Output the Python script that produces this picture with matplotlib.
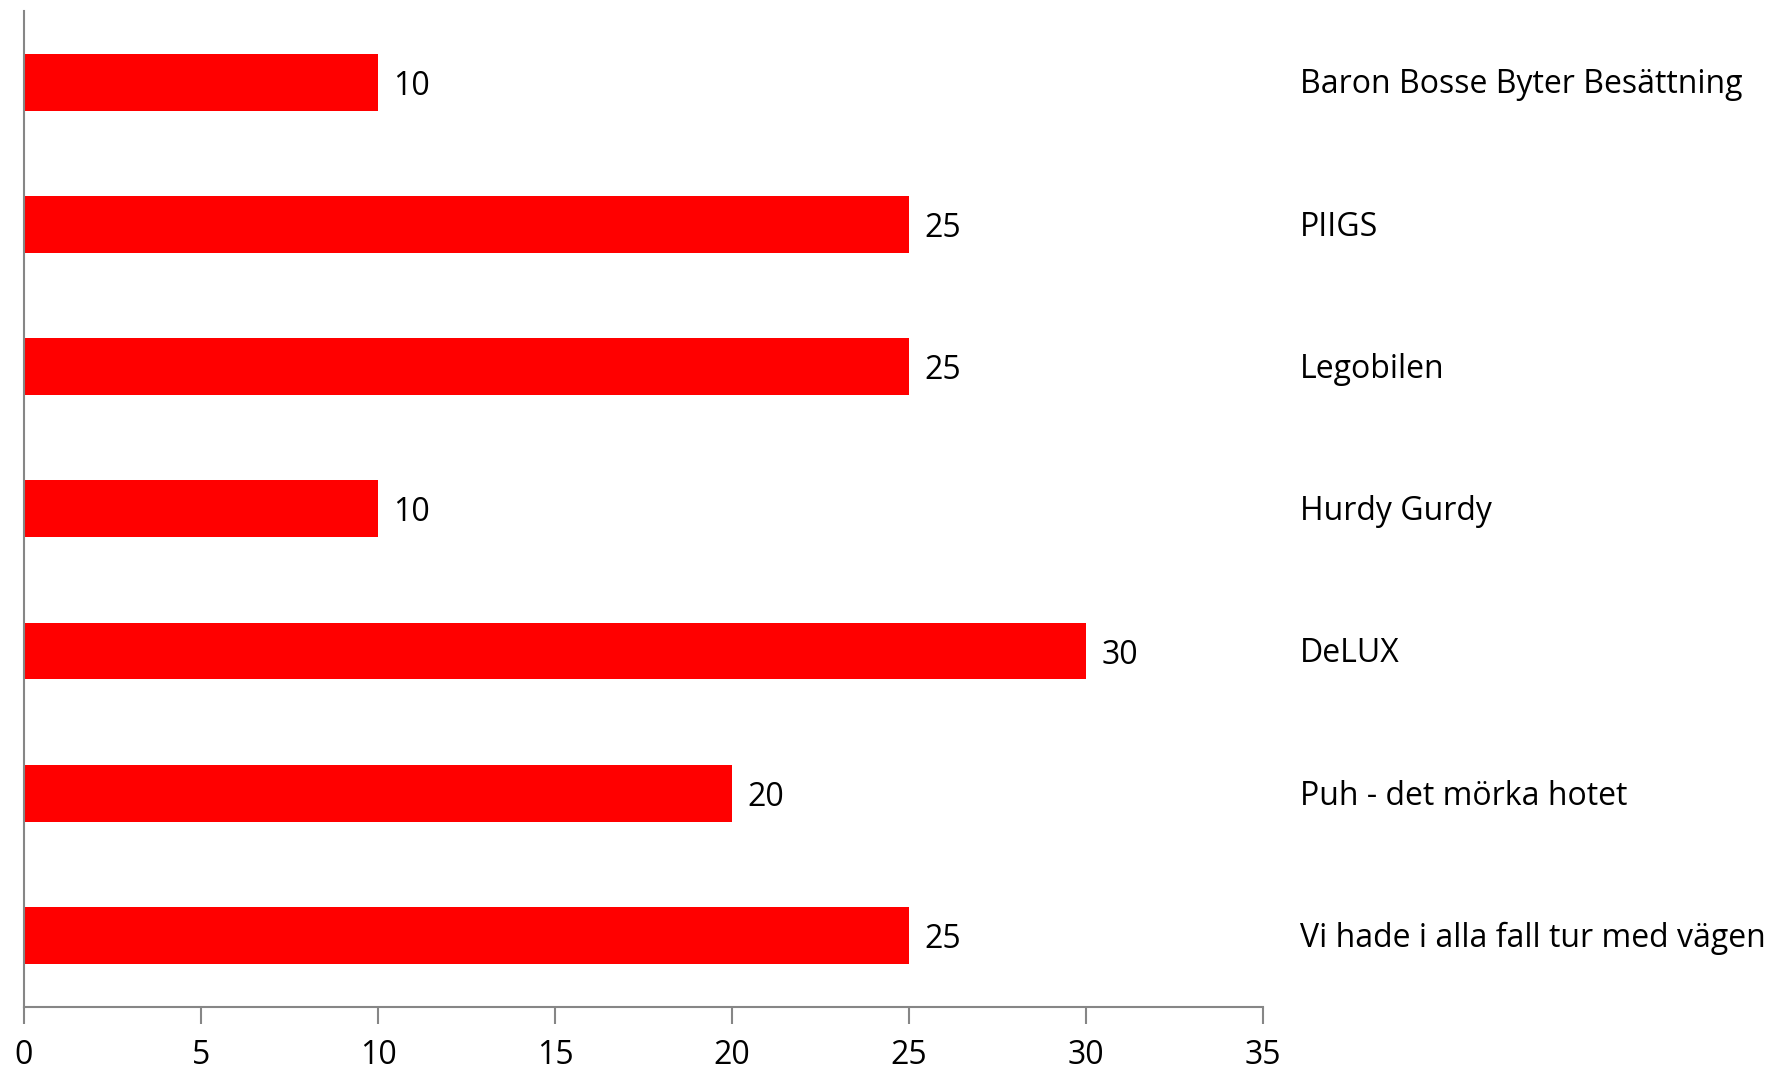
import matplotlib.pyplot as plt

plt.rcParams['font.family'] = ['Open Sans', 'DejaVu Sans']

titles = ['Baron Bosse Byter Besättning', 'PIIGS', 'Legobilen', 'Hurdy Gurdy',
          'DeLUX', 'Puh - det mörka hotet', 'Vi hade i alla fall tur med vägen']
scores = [10, 25, 25, 10, 30, 20, 25]

fig = plt.figure(figsize=(17.8, 10.72), dpi=100)
ax = fig.add_axes([0.0135, 0.061, 0.696, 0.9287])

y = list(range(len(titles)))[::-1]
bars = ax.barh(y, scores, height=0.4, color='#ff0000')
for b in bars:
    ax.annotate(f'{b.get_width():g}', (b.get_width(), b.get_y() + b.get_height() / 2),
                xytext=(11, -3), textcoords='offset points', fontsize=23,
                va='center', ha='left')

ax.set_xlim(0, 35)
ax.set_ylim(-0.5, len(titles) - 0.5)
ax.set_xticks(range(0, 36, 5))
ax.set_yticks([])
ax.tick_params(axis='x', length=12, width=1.5, color='#868686', labelsize=23, pad=11)

for s in ['top', 'right']:
    ax.spines[s].set_visible(False)
for s in ['left', 'bottom']:
    ax.spines[s].set_color('#868686')
    ax.spines[s].set_linewidth(1.5)

# category names sit to the right of the plot
for yi, t in zip(y, titles):
    ax.annotate(t, (36.05, yi), xytext=(0, -2), textcoords='offset points',
                fontsize=23, va='center', ha='left', annotation_clip=False)

fig.savefig('out.png')
